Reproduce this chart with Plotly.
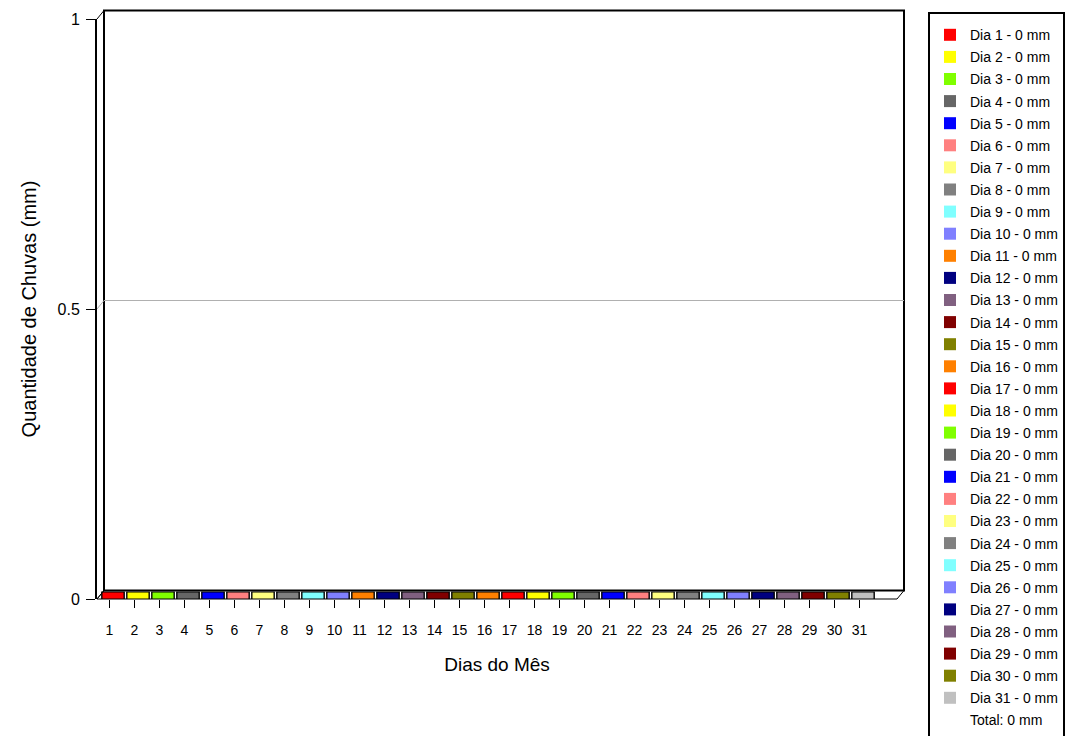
import plotly.graph_objects as go

days = list(range(1, 32))
rain_mm = [0] * 31
day_colors = [
    "#FF0000", "#FFFF00", "#80FF00", "#666666", "#0000FF", "#FF8080", "#FFFF80", "#808080",
    "#80FFFF", "#8080FF", "#FF8000", "#000080", "#806080", "#800000", "#808000", "#FF8000",
    "#FF0000", "#FFFF00", "#80FF00", "#666666", "#0000FF", "#FF8080", "#FFFF80", "#808080",
    "#80FFFF", "#8080FF", "#000080", "#806080", "#800000", "#808000", "#C0C0C0",
]
y_ticks = [0, 0.5, 1]
y_tick_text = ["0", "0.5", "1"]
total_label = "Total: 0 mm"

FONT = "Liberation Sans, Arial, sans-serif"

# pixel geometry of the pseudo-3D frame
W, H = 1066, 736
L, R, T, B = 97, 897, 19, 599
PW, PH = R - L, B - T
DX, DY = 7 / PW, 8.5 / PH  # depth offset in paper units
SLOT = PW / 32

fig = go.Figure()

# legend entries (zero height bars)
for d, v, c in zip(days, rain_mm, day_colors):
    fig.add_trace(go.Bar(
        x=[d], y=[v], name=f"Dia {d} - {v} mm",
        marker=dict(color=c, line=dict(width=0)),
        legendgroup=str(d), width=0.6,
    ))

# flat slabs lying on the floor (shifted half the depth)
fig.add_trace(go.Scatter(
    x=days, y=rain_mm, mode="markers", xaxis="x2", yaxis="y2", showlegend=False,
    marker=dict(symbol="line-ew", size=17, color="black", line=dict(width=8, color="black")),
    hoverinfo="skip",
))
fig.add_trace(go.Scatter(
    x=days, y=rain_mm, mode="markers", xaxis="x2", yaxis="y2", showlegend=False,
    marker=dict(symbol="line-ew", size=15, color=day_colors, line=dict(width=6, color=day_colors)),
))

fig.add_trace(go.Scatter(
    x=[None], y=[None], mode="lines", name=total_label,
    line=dict(color="rgba(0,0,0,0)"), legendgroup="total",
))

shift_x = 3.5 / SLOT
shift_y = 3.5 / PH

shapes = [
    # floor
    dict(type="path", xref="paper", yref="paper",
         path=f"M 0,0 L 1,0 L {1+DX},{DY} L {DX},{DY} Z",
         line=dict(color="black", width=1), fillcolor="white", layer="below"),
    # back wall
    dict(type="rect", xref="paper", yref="paper", x0=DX, x1=1 + DX, y0=DY, y1=1 + DY,
         line=dict(color="black", width=2), layer="below"),
    dict(type="line", xref="paper", yref="paper", x0=0, x1=DX, y0=1, y1=1 + DY,
         line=dict(color="black", width=1)),
    dict(type="line", xref="paper", yref="paper", x0=0, x1=DX, y0=0, y1=DY,
         line=dict(color="black", width=1)),
    # grid line on back wall
    dict(type="line", xref="paper", yref="y", x0=DX, x1=1 + DX, y0=0.5 + DY, y1=0.5 + DY,
         line=dict(color="#B0B0B0", width=1), layer="below"),
    dict(type="line", xref="paper", yref="y", x0=0, x1=DX, y0=0.5, y1=0.5 + DY,
         line=dict(color="#B0B0B0", width=1), layer="below"),
]

fig.update_layout(
    width=W, height=H,
    margin=dict(l=L, r=W - R, t=T, b=H - B, pad=0, autoexpand=False),
    paper_bgcolor="white", plot_bgcolor="rgba(0,0,0,0)",
    font=dict(family=FONT, size=14, color="black"),
    barmode="overlay",
    showlegend=True,
    shapes=shapes,
    xaxis=dict(
        range=[0.5, 32.5], tickvals=days, ticktext=[str(d) for d in days],
        ticks="outside", ticklen=8, tickcolor="black", tickwidth=1,
        showgrid=False, zeroline=False, showline=False,
        tickfont=dict(size=14), ticklabelstandoff=10,
        title=dict(text="Dias do Mês", font=dict(size=19), standoff=20),
    ),
    yaxis=dict(
        range=[0, 1], tickvals=y_ticks, ticktext=y_tick_text,
        ticks="outside", ticklen=9, tickcolor="black", tickwidth=1,
        showgrid=False, zeroline=False, showline=True, linecolor="black", linewidth=2,
        tickfont=dict(size=16), ticklabelstandoff=3,
        title=dict(text="Quantidade de Chuvas (mm)", font=dict(size=20), standoff=16),
    ),
    xaxis2=dict(range=[0.5 - shift_x, 32.5 - shift_x], overlaying="x", visible=False),
    yaxis2=dict(range=[-shift_y, 1 - shift_y], overlaying="y", visible=False),
    legend=dict(
        x=(928 - L) / PW, xanchor="left", y=(B - 12) / PH, yanchor="top",
        bordercolor="black", borderwidth=2, bgcolor="white",
        font=dict(size=14), tracegroupgap=0.9, itemwidth=30,
        traceorder="grouped", maxheight=900,
        title=dict(text=" ", font=dict(size=4)),
    ),
)

fig.write_html("out.html", config={"displayModeBar": False},
               post_script="document.body.style.margin='0';")
